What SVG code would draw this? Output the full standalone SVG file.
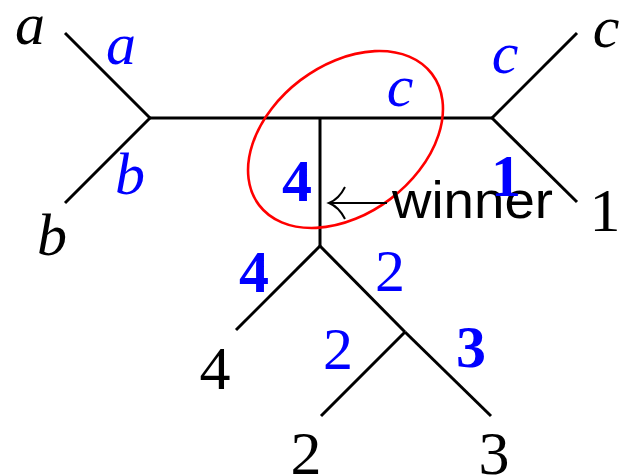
<svg xmlns="http://www.w3.org/2000/svg" width="619" height="476" viewBox="0 0 619 476">
<style>
.e{stroke:#000;stroke-width:3;fill:none;stroke-linecap:butt}
text.lb{font-family:'Liberation Serif','Times New Roman','DejaVu Serif',serif;font-size:62px;fill:#000;text-anchor:middle}
text.bl{font-family:'Liberation Serif','Times New Roman','DejaVu Serif',serif;font-size:60px;fill:#0000ff;text-anchor:middle}
text.it{font-style:italic;font-size:60px}
text.bd{font-weight:bold}
</style>
<rect width="619" height="476" fill="#fff"/>
<g id="connectors">
<line class="e" x1="65" y1="33" x2="150" y2="118"/>
<line class="e" x1="65" y1="203" x2="150" y2="118"/>
<line class="e" x1="150" y1="118" x2="492" y2="118"/>
<line class="e" x1="492" y1="118" x2="577" y2="33"/>
<line class="e" x1="492" y1="118" x2="577" y2="202"/>
<line class="e" x1="320" y1="118" x2="320" y2="246"/>
<line class="e" x1="320" y1="246" x2="236" y2="330"/>
<line class="e" x1="320" y1="246" x2="405" y2="332"/>
<line class="e" x1="405" y1="332" x2="321" y2="416"/>
<line class="e" x1="405" y1="332" x2="491" y2="416"/>
</g>
<g id="highlight">
<ellipse cx="345.5" cy="139.5" rx="108.5" ry="74.5" transform="rotate(-37.2 345.5 139.5)" fill="none" stroke="#ff0000" stroke-width="2.6"/>
</g>
<g id="winner">
<path d="M330 203 H387 M345 187 Q339 199 329 203 Q339 207 345 219" fill="none" stroke="#000" stroke-width="2"/>
<text x="392" y="218" font-family="Liberation Sans,sans-serif" font-size="52" fill="#000" textLength="161" lengthAdjust="spacingAndGlyphs">winner</text>
</g>
<g id="leaf-a"><text class="lb it" font-family="Liberation Serif" x="30" y="44">a</text></g>
<g id="leaf-b"><text class="lb it" font-family="Liberation Serif" x="52" y="255">b</text></g>
<g id="leaf-c"><text class="lb it" font-family="Liberation Serif" x="606" y="47">c</text></g>
<g id="leaf-1"><text class="lb" font-family="Liberation Serif" x="605" y="231">1</text></g>
<g id="leaf-4"><text class="lb" font-family="Liberation Serif" x="215" y="389">4</text></g>
<g id="leaf-2"><text class="lb" font-family="Liberation Serif" x="306" y="474">2</text></g>
<g id="leaf-3"><text class="lb" font-family="Liberation Serif" x="494" y="474">3</text></g>
<g id="labels">
<text class="bl it" x="121" y="64">a</text>
<text class="bl it" x="130" y="194">b</text>
<text class="bl it" x="400" y="106">c</text>
<text class="bl it" x="505" y="73">c</text>
<text class="bl bd" x="297" y="201">4</text>
<text class="bl bd" x="506" y="196">1</text>
<text class="bl bd" x="254" y="292">4</text>
<text class="bl" x="390" y="291">2</text>
<text class="bl" x="338" y="369">2</text>
<text class="bl bd" x="471" y="367">3</text>
</g>
</svg>
